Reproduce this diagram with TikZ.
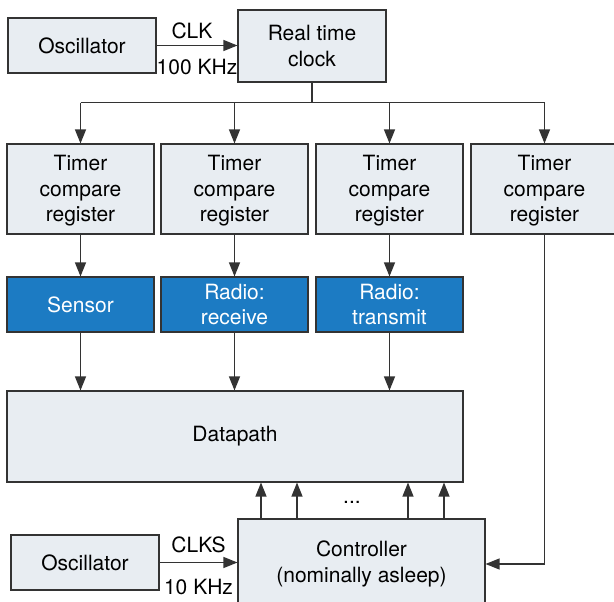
\documentclass[tikz,border=0pt]{standalone}
\usepackage{fontspec}
\setmainfont{TeX Gyre Heros}
\usetikzlibrary{arrows.meta}
\definecolor{boxfill}{HTML}{E8EDF2}
\definecolor{unitblue}{HTML}{1C7BC3}
\definecolor{edge}{HTML}{333333}

\begin{document}
\begin{tikzpicture}[x=1pt,y=1pt]
        \tikzstyle{every node}+=[font=\fontsize{21}{25.5}\selectfont]
        \tikzstyle{block}=[draw=edge, line width=1.1pt, fill=boxfill, align=center, inner sep=0pt]
        \tikzstyle{unit}=[block, fill=unitblue, text=white]
        \tikzstyle{wire}=[draw=edge, line width=1.2pt]
        \tikzstyle{arr}=[wire, -{Triangle[length=14pt,width=11pt]}]
        \useasboundingbox (0,0) rectangle (614,-602);
        \node[block, minimum width=148pt, minimum height=55pt] (osca) at (82,-45.5) {Oscillator};
        \node[block, minimum width=148pt, minimum height=72pt] (rtc) at (312,-46) {Real time\\clock};
        \node[block, minimum width=147pt, minimum height=90pt] (t1) at (80.5,-189) {\\[-6pt]Timer\\compare\\register};
        \node[block, minimum width=147pt, minimum height=90pt] (t2) at (234.5,-189) {\\[-6pt]Timer\\compare\\register};
        \node[block, minimum width=147pt, minimum height=90pt] (t3) at (389.5,-189) {\\[-6pt]Timer\\compare\\register};
        \node[block, minimum width=147pt, minimum height=90pt] (t4) at (544.5,-189) {\\[-6pt]Timer\\compare\\register};
        \node[unit, minimum width=147pt, minimum height=55pt] (s1) at (80.5,-304.5) {Sensor};
        \node[unit, minimum width=147pt, minimum height=55pt] (s2) at (234.5,-304.5) {Radio:\\receive};
        \node[unit, minimum width=147pt, minimum height=55pt] (s3) at (389.5,-304.5) {Radio:\\transmit};
        \node[block, minimum width=456pt, minimum height=91pt] (dp) at (235,-436.5) {Datapath};
        \node[block, minimum width=247pt, minimum height=90pt] (ctrl) at (361.5,-564) {Controller\\(nominally asleep)};
        \node[block, minimum width=148pt, minimum height=55pt] (oscb) at (85,-562.5) {Oscillator};
        \node (dots) at (352,-502) {...};
        \draw[arr] (osca.east) -- node[above=3pt, xshift=-5pt] {CLK} node[below=10pt] {100 KHz} (osca.east -| rtc.west);
        \draw[wire] (rtc.south) -- ++(0,-20) coordinate (bus);
        \draw[wire] (bus -| t1) -- (bus -| t4);
        \foreach \n in {t1,t2,t3,t4}
            \draw[arr] (bus -| \n) -- (\n.north);
        \foreach \n/\m in {t1/s1,t2/s2,t3/s3} {
            \draw[arr] (\n.south) -- (\m.north);
            \draw[arr] (\m.south) -- (\m.south |- dp.north);
        }
        \draw[arr] (t4.south) |- (ctrl.east);
        \draw[arr] (oscb.east) -- node[above=6pt] {CLKS} node[below=13pt] {10 KHz} (oscb.east -| ctrl.west);
        \foreach \dx in {-100.5,-64.5,46.5,82.5}
            \draw[arr] ([xshift=\dx pt]ctrl.north) -- ([xshift=\dx pt]ctrl.north |- dp.south);
\end{tikzpicture}
\end{document}
